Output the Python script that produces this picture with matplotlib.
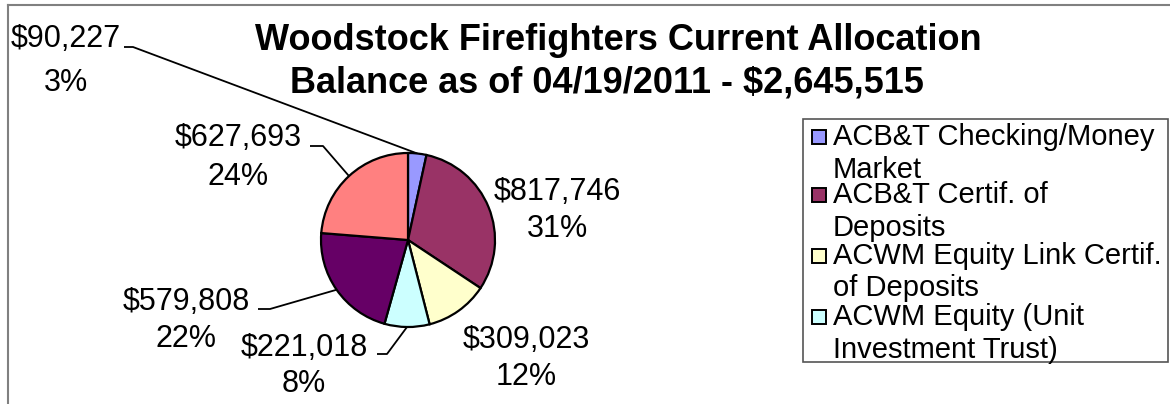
import matplotlib
matplotlib.use("Agg")
import matplotlib.pyplot as plt
from matplotlib.patches import Rectangle
import numpy as np

plt.rcParams['font.family'] = ['Liberation Sans', 'DejaVu Sans']

# ---- data ----
values = [90227, 817746, 309023, 221018, 579808, 627693]
colors = ['#9999FF', '#993366', '#FFFFCC', '#CCFFFF', '#660066', '#FF8080']
value_labels = ['$90,227', '$817,746', '$309,023', '$221,018', '$579,808', '$627,693']
pct_labels = ['3%', '31%', '12%', '8%', '22%', '24%']
legend_labels = ['ACB&T Checking/Money\nMarket',
                 'ACB&T Certif. of\nDeposits',
                 'ACWM Equity Link Certif.\nof Deposits',
                 'ACWM Equity (Unit\nInvestment Trust)']
title_lines = ['Woodstock Firefighters Current Allocation',
               'Balance as of 04/19/2011 - $2,645,515']

# ---- layout (pixel space, y measured from top) ----
W, H = 1170, 404
fig = plt.figure(figsize=(W / 100, H / 100), dpi=100)
ax = fig.add_axes([0, 0, 1, 1])

def Y(y):
    return H - y

pie_cx, pie_cy, pie_r = 408, 240, 87
wedges, _ = ax.pie(values, colors=colors, startangle=90, counterclock=False,
                   center=(pie_cx, Y(pie_cy)), radius=pie_r,
                   wedgeprops=dict(edgecolor='black', linewidth=1.6))
ax.set_xlim(0, W)
ax.set_ylim(0, H)
ax.set_aspect('auto')
ax.axis('off')

# label positions: (center x, baseline line1, baseline line2, leader start or None)
label_pos = [
    (66, 47, 91, (124, 133, 47)),
    (557, 200, 237, None),
    (526, 348, 385, None),
    (304, 356, 392, (377, 387, 354)),
    (186, 310, 347, (258, 270, 309)),
    (238, 146, 185, (310, 323, 146)),
]
fs_lab = 22
for w, vl, pl, (cx, b1, b2, lead) in zip(wedges, value_labels, pct_labels, label_pos):
    ax.text(cx, Y(b1), vl, ha='center', va='baseline', fontsize=fs_lab, color='black')
    ax.text(cx, Y(b2), pl, ha='center', va='baseline', fontsize=fs_lab, color='black')
    if lead is not None:
        ang = np.deg2rad((w.theta1 + w.theta2) / 2)
        ex = w.center[0] + w.r * np.cos(ang)
        ey = w.center[1] + w.r * np.sin(ang)
        x0, x1, ly = lead
        ax.plot([x0, x1, ex], [Y(ly), Y(ly), ey], color='black', lw=1.3,
                solid_capstyle='butt', zorder=0)

# title
ax.text(618, Y(50), title_lines[0], ha='center', va='baseline', fontsize=26,
        fontweight='bold')
ax.text(607, Y(92), title_lines[1], ha='center', va='baseline', fontsize=26,
        fontweight='bold')

# legend (only first four entries fit)
ax.add_patch(Rectangle((803, Y(362)), 1168 - 803, 362 - 119, facecolor='white',
                       edgecolor='#555555', lw=1.2, zorder=3))
entry_base = [145, 203, 264, 325]
for w, lab, b in zip(wedges, legend_labels, entry_base):
    ax.add_patch(Rectangle((812, Y(b - 1)), 14, 14, facecolor=w.get_facecolor(),
                           edgecolor='black', lw=1.4, zorder=4))
    for k, line in enumerate(lab.split('\n')):
        ax.text(833, Y(b + 32.5 * k), line, ha='left', va='baseline',
                fontsize=21, zorder=5)

# chart area border (clipped by the image)
ax.plot([7.5, 7.5], [Y(404), Y(5)], color='#808080', lw=1.5)
ax.plot([7.5, W], [Y(5), Y(5)], color='#808080', lw=1.5)

fig.savefig('out.png', dpi=100)
